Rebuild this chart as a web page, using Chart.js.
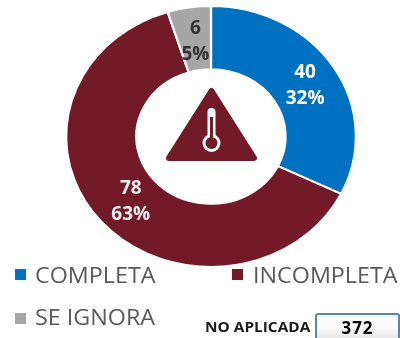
<!DOCTYPE html>
<html><head><meta charset="utf-8">
<script src="https://cdn.jsdelivr.net/npm/chart.js@4/dist/chart.umd.min.js"></script>
<style>
html,body{margin:0;padding:0;background:#fff;overflow:hidden}
#w{position:relative;width:400px;height:338px;font-family:"Open Sans",sans-serif}
canvas{position:absolute;left:0;top:0}
.lg{position:absolute;font-size:21px;line-height:22px;color:#595959;white-space:nowrap;transform:scaleX(1.11);transform-origin:0 50%}
.sw{position:absolute;width:11px;height:11px}
#na{position:absolute;left:205px;top:318px;font-size:14px;font-weight:700;color:#1a1a1a;line-height:18px;white-space:nowrap;transform:scaleX(1.1);transform-origin:0 50%}
#box{position:absolute;left:315px;top:313px;width:85px;height:25px;box-sizing:border-box;border:2px solid #5b84ac;border-bottom:none;border-radius:3px 3px 0 0;background:linear-gradient(#f4f6f8,#fff 40%,#e8e8e8);text-align:center;font-size:17px;font-weight:700;line-height:25px;color:#000;letter-spacing:1px}
</style></head><body>
<div id="w"><canvas id="c" width="400" height="338"></canvas>
<span class="sw" style="left:15px;top:269px;background:#0070C0"></span><div class="lg" style="left:35px;top:264px" id="l0"></div>
<span class="sw" style="left:232px;top:269px;background:#721A27"></span><div class="lg" style="left:253px;top:264px" id="l1"></div>
<span class="sw" style="left:15px;top:313px;background:#A6A6A6"></span><div class="lg" style="left:35px;top:306px" id="l2"></div>
<div id="na"></div><div id="box"></div></div>
<script>
const categories=["COMPLETA","INCOMPLETA","SE IGNORA"];
const values=[40,78,6];
const percents=["32%","63%","5%"];
const colors=["#0070C0","#721A27","#A6A6A6"];
const labelColors=["#fff","#f4eeee","#333"];
const noAplicadaLabel="NO APLICADA";
const noAplicada="372";
categories.forEach((c,i)=>document.getElementById("l"+i).textContent=c);
document.getElementById("na").textContent=noAplicadaLabel;
document.getElementById("box").textContent=noAplicada;
const SX=1.11;
const stretch={id:"stretch",
 beforeDatasetsDraw(ch){const x=ch.getDatasetMeta(0).data[0].x;const c=ch.ctx;c.save();c.translate(x,0);c.scale(SX,1);c.translate(-x,0);},
 afterDatasetsDraw(ch){const c=ch.ctx;c.restore();
  const arcs=ch.getDatasetMeta(0).data;const cx=arcs[0].x;
  const off=[[1,1],[3,1],[1,3]];
  arcs.forEach((a,i)=>{const p=a.getCenterPoint();const x=cx+(p.x-cx)*SX+off[i][0],y=p.y+off[i][1];
   c.fillStyle=labelColors[i];c.textAlign="center";c.textBaseline="middle";
   c.font='700 19px "Open Sans",sans-serif';
   c.fillText(String(values[i]),x,y-13);c.fillText(percents[i],x,y+13);});
  c.save();c.fillStyle="#721A27";c.strokeStyle="#721A27";c.lineWidth=6;c.lineJoin="round";
  c.beginPath();c.moveTo(211.5,91);c.lineTo(254,158);c.lineTo(169,158);c.closePath();c.fill();c.stroke();
  c.fillStyle="#fff";c.beginPath();c.roundRect(207.5,108,8,32,4);c.fill();
  c.beginPath();c.arc(211.5,143,9,0,Math.PI*2);c.fill();
  c.fillStyle="#721A27";c.beginPath();c.arc(211.5,143,6,0,Math.PI*2);c.fill();
  c.fillRect(210,117,3,24);
  c.restore();
 }};
new Chart(document.getElementById("c"),{type:"doughnut",
 data:{labels:categories,datasets:[{data:values,backgroundColor:colors,borderColor:"#fff",borderWidth:2,borderAlign:"center"}]},
 options:{responsive:false,animation:false,cutout:"51.5%",
  layout:{padding:{left:79,right:57,top:5,bottom:70}},
  plugins:{legend:{display:false},tooltip:{enabled:false}}},
 plugins:[stretch]});
</script></body></html>
